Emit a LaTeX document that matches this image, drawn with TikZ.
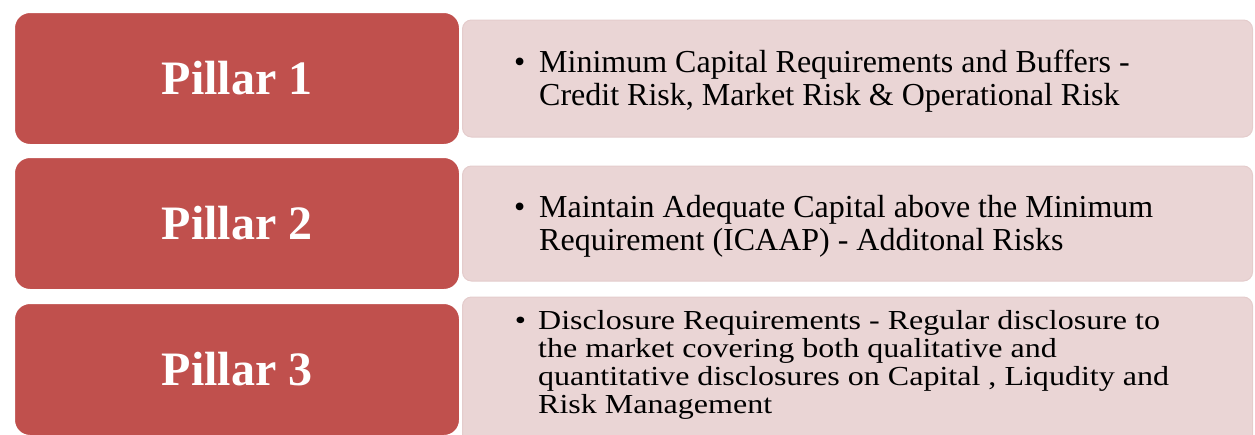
\documentclass[tikz,border=0pt]{standalone}
\usepackage{fontspec}
\setmainfont{Liberation Serif}
\newfontfamily\widefont[FakeStretch=1.165]{Liberation Serif}
\definecolor{pillarred}{HTML}{C0504D}
\definecolor{descpink}{HTML}{EAD5D5}
\definecolor{descedge}{HTML}{E4CCCC}
\begin{document}
\begin{tikzpicture}[x=1pt,y=-1pt,
  pillar/.style={draw=white,line width=2pt,fill=pillarred,rounded corners=16pt,
    minimum width=446pt,minimum height=133pt,inner sep=0pt,text=white,
    font=\fontsize{48}{48}\selectfont\bfseries},
  desc/.style={draw=descedge,line width=1pt,fill=descpink,rounded corners=9pt,
    minimum width=790pt,inner sep=0pt},
  desctext/.style={anchor=base west,align=left,inner sep=0pt,text=black},
  big/.style={font=\fontsize{32}{33}\selectfont},
  small/.style={font=\widefont\fontsize{27.5}{28}\selectfont}
]
\useasboundingbox (0,0) rectangle (1255,434);
\clip (0,0) rectangle (1255,434);
% description boxes
\node[desc,minimum height=117pt] (d1) at (857.5,78.5) {};
\node[desc,minimum height=115pt] (d2) at (857.5,223.5) {};
\node[desc,minimum height=150pt] (d3) at (857.5,372) {};
% pillars
\node[pillar] (p1) at (237,78.5) {Pillar 1};
\node[pillar] (p2) at (237,223.5) {Pillar 2};
\node[pillar] (p3) at (237,369.5) {Pillar 3};
% texts (base anchor = baseline of last line)
\node[desctext,big] (t1) at (539,105)
  {\llap{\textbullet\hspace{14pt}}Minimum Capital Requirements and Buffers -\\Credit Risk, Market Risk \& Operational Risk};
\node[desctext,big] (t2) at (539,250)
  {\llap{\textbullet\hspace{14pt}}Maintain Adequate Capital above the Minimum\\Requirement (ICAAP) - Additonal Risks};
\node[desctext,small] (t3) at (538,413)
  {\llap{\textbullet\hspace{12pt}}Disclosure Requirements - Regular disclosure to\\the market covering both qualitative and\\quantitative disclosures on Capital , Liqudity and\\Risk Management};
\end{tikzpicture}
\end{document}
